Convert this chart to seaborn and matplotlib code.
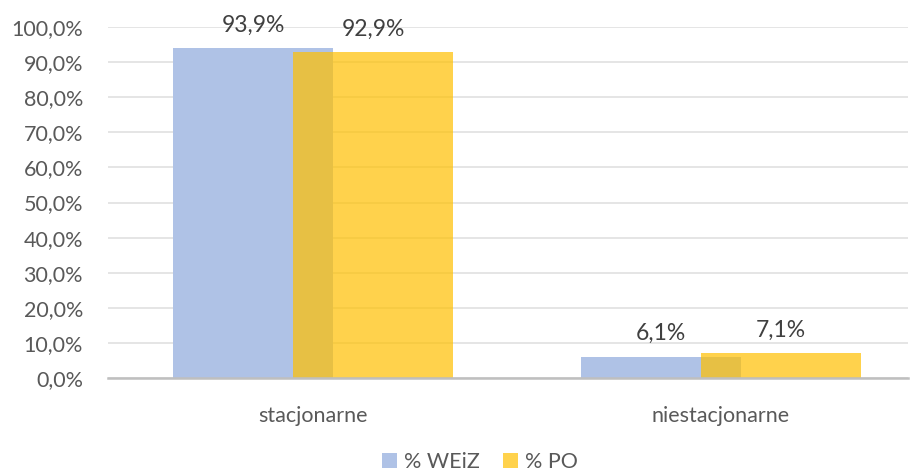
import matplotlib
matplotlib.use("Agg")
import matplotlib.pyplot as plt
import seaborn as sns
import numpy as np
from matplotlib.patches import Patch

categories = ["stacjonarne", "niestacjonarne"]
weiz = [93.9, 6.1]
po = [92.9, 7.1]
series_names = ["% WEiZ", "% PO"]
yticks = [0, 10, 20, 30, 40, 50, 60, 70, 80, 90, 100]

sns.set_theme(style="white")
plt.rcParams['font.family'] = ['Lato', 'DejaVu Sans']

fig = plt.figure(figsize=(9.12, 4.71), dpi=100)
ax = fig.add_axes([108/912, 1-378/471, 800/912, 351/471])

blue = "#AFC2E6"
yellow = "#FFC000"
bw = 160/408
off = 60/408
fs = 15.5
fs_lab = 16.5

sns.barplot(x=categories, y=weiz, color=blue, width=bw, ax=ax, saturation=1, zorder=3, linewidth=0)
n0 = len(ax.patches)
for p in ax.patches[:n0]:
    p.set_x(p.get_x() - off)
sns.barplot(x=categories, y=po, color=yellow, width=bw, ax=ax, saturation=1, alpha=0.7, zorder=4, linewidth=0)
for p in ax.patches[n0:]:
    p.set_x(p.get_x() + off)

ax.set_xlim(-205/408, 1 + 187/408)
ax.set_ylim(0, 100)
ax.set_yticks(yticks)
ax.set_yticklabels([f"{v:.1f}%".replace(".", ",") for v in yticks], color="#595959", fontsize=fs)
ax.tick_params(axis="y", length=0, pad=18)
ax.tick_params(axis="x", length=0, pad=20, labelsize=fs, labelcolor="#595959")
ax.grid(axis="y", color="#E3E3E3", linewidth=1.3, zorder=0)
ax.set_axisbelow(True)
for s in ["top", "right", "left"]:
    ax.spines[s].set_visible(False)
ax.spines["bottom"].set_color("#BFBFBF")
ax.spines["bottom"].set_linewidth(1.8)
ax.spines["bottom"].set_zorder(5)

for i, (a, b) in enumerate(zip(weiz, po)):
    ax.annotate(f"{a:.1f}%".replace(".", ","), (i - off, a), xytext=(0, 9), textcoords="offset points",
                ha="center", va="bottom", fontsize=fs_lab, color="#404040")
    ax.annotate(f"{b:.1f}%".replace(".", ","), (i + off, b), xytext=(0, 9), textcoords="offset points",
                ha="center", va="bottom", fontsize=fs_lab, color="#404040")

handles = [Patch(facecolor=blue, edgecolor="none"), Patch(facecolor=yellow, alpha=0.7, edgecolor="none")]
fig.legend(handles, series_names, loc="center", bbox_to_anchor=(480/912, 1-462/471), ncol=2, frameon=False,
           fontsize=fs, labelcolor="#595959", handlelength=0.7, handleheight=0.7, handletextpad=0.3,
           columnspacing=1.1)

fig.savefig("out.png", dpi=100)
